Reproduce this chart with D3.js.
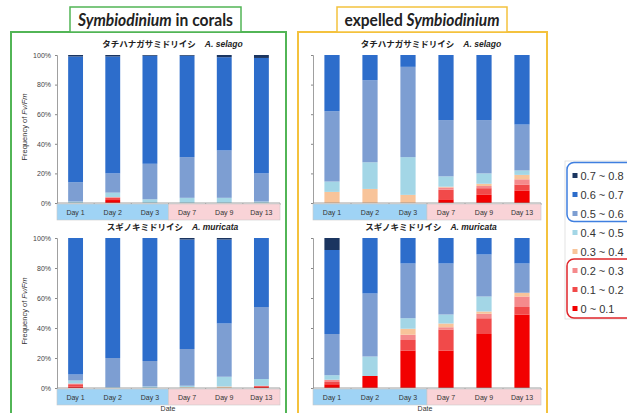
<!DOCTYPE html>
<html>
<head>
<meta charset="utf-8">
<script src="https://cdn.jsdelivr.net/npm/d3@7"></script>
<style>
  html, body { margin: 0; padding: 0; background: #fff; }
  svg { display: block; font-family: "Liberation Sans", Arial, sans-serif; }
</style>
</head>
<body>
<svg id="chart" width="627" height="413"></svg>
<script>
// categories
const days = ["Day 1", "Day 2", "Day 3", "Day 7", "Day 9", "Day 13"];
const dayPhase = ["before", "before", "before", "after", "after", "after"];
const bins = ["0 ~ 0.1", "0.1 ~ 0.2", "0.2 ~ 0.3", "0.3 ~ 0.4", "0.4 ~ 0.5", "0.5 ~ 0.6", "0.6 ~ 0.7", "0.7 ~ 0.8"];
const binColors = ["#f20000", "#f14a4a", "#f58a8c", "#f8c49a", "#a3d6e6", "#7d9ed2", "#2d6dcb", "#1b3560"];
const yTicks = [0, 20, 40, 60, 80, 100];

// frequency (%) per day, columns follow bins (0~0.1 ... 0.7~0.8)
const coralSelago = [
  [0, 0, 0, 0, 1, 13, 85, 1],
  [2, 1.5, 0.5, 0, 3, 13, 79, 1],
  [0, 0, 0, 0, 2.5, 24, 73, 0.5],
  [0, 0, 0, 0, 3.5, 27.5, 68.5, 0.5],
  [0, 0, 0, 0, 3.5, 32, 63, 1.5],
  [0, 0, 0, 0, 1, 19, 78, 2]
];
const coralMuricata = [
  [1, 1.5, 0.5, 0, 2, 4, 91, 0],
  [0, 0, 0, 0, 0.5, 19.5, 80, 0],
  [0, 0, 0, 0, 1, 17, 82, 0],
  [0, 0, 0, 0.5, 1, 24.5, 73, 1],
  [0, 0, 0, 1, 6.5, 35.5, 56, 1],
  [1, 0.5, 0, 0, 4.5, 48, 46, 0]
];
const expelledSelago = [
  [0, 0, 0, 7.5, 7, 47.5, 38, 0],
  [0, 0, 0, 9.5, 18, 55.5, 17, 0],
  [0, 0, 0, 5.5, 25.5, 61, 8, 0],
  [2.5, 6.5, 1.5, 0.5, 7, 38, 44, 0],
  [5.5, 4.5, 1.5, 1.5, 7, 36, 44, 0],
  [8.5, 4, 3.5, 3, 3, 31, 47, 0]
];
const expelledMuricata = [
  [2.5, 1.5, 1.5, 0, 3, 27.5, 56, 8],
  [8, 0, 0, 0, 13, 42, 37, 0],
  [25, 7, 3.5, 4, 7, 36.5, 17, 0],
  [25, 14, 1.5, 2.5, 6, 34, 17, 0],
  [36, 10.5, 3, 1.5, 10, 28, 11, 0],
  [49, 5, 7, 2.5, 0, 19.5, 17, 0]
];

const svg = d3.select("#chart");

// outer frames (drawn first so charts sit on top)
svg.append("rect").attr("x", 11).attr("y", 32).attr("width", 275).attr("height", 400)
  .attr("fill", "none").attr("stroke", "#52b556").attr("stroke-width", 2);
svg.append("rect").attr("x", 298).attr("y", 32).attr("width", 249).attr("height", 400)
  .attr("fill", "none").attr("stroke", "#f4c23e").attr("stroke-width", 2);

function titleBox(x, y, w, h, stroke, parts) {
  svg.append("rect").attr("x", x).attr("y", y).attr("width", w).attr("height", h)
    .attr("fill", "#fff").attr("stroke", stroke).attr("stroke-width", 1.5);
  const t = svg.append("text").attr("x", x + w / 2).attr("y", y + h / 2 + 6)
    .attr("text-anchor", "middle").attr("font-family", "Lato, 'Open Sans', sans-serif")
    .attr("font-weight", "bold").attr("font-size", 16.5).attr("fill", "#222")
    .attr("textLength", 155).attr("lengthAdjust", "spacingAndGlyphs");
  parts.forEach(p => t.append("tspan").attr("font-style", p.italic ? "italic" : "normal").text(p.text));
}
titleBox(70, 7, 171, 25, "#52b556", [{ text: "Symbiodinium", italic: true }, { text: " in corals" }]);
titleBox(337, 7, 170, 25, "#f4c23e", [{ text: "expelled " }, { text: "Symbiodinium", italic: true }]);

function drawPanel(rows, x0, x1, yBottom, yTop, jp, latin, showLabels) {
  const g = svg.append("g");
  const x = d3.scaleBand().domain(days).range([x0, x1]).paddingInner(0.6).paddingOuter(0.3);
  const y = d3.scaleLinear().domain([0, 100]).range([yBottom, yTop]);
  const step = x.step();

  // subtitle
  const st = g.append("text").attr("x", (x0 + x1) / 2 + 4).attr("y", yTop - 8)
    .attr("text-anchor", "middle").attr("font-size", 8.5).attr("font-weight", "bold").attr("fill", "#222");
  st.append("tspan").attr("font-family", "'Noto Sans CJK JP', sans-serif").text(jp);
  st.append("tspan").attr("dx", 9).attr("font-style", "italic").text(latin);

  // stacked bars
  const table = rows.map((r, i) => {
    const o = { day: days[i] };
    bins.forEach((b, j) => { o[b] = r[j]; });
    return o;
  });
  const series = d3.stack().keys(bins)(table);
  g.selectAll("g.layer").data(series).join("g")
    .attr("fill", (d, i) => binColors[i])
    .selectAll("rect").data(d => d).join("rect")
    .attr("x", d => x(d.data.day))
    .attr("width", x.bandwidth())
    .attr("y", d => y(d[1]))
    .attr("height", d => Math.max(0, y(d[0]) - y(d[1])));

  // y axis
  const ya = g.append("g").attr("transform", `translate(${x0},0)`)
    .call(d3.axisLeft(y).tickValues(yTicks).tickSize(2).tickPadding(4)
      .tickFormat(showLabels ? (d => d + "%") : ""));
  ya.select(".domain").attr("stroke", "#888").attr("stroke-width", 0.8);
  ya.selectAll(".tick line").attr("stroke", "#888");
  ya.selectAll(".tick text").attr("font-size", 7).attr("fill", "#444");

  // x axis line with ticks at band boundaries
  g.append("line").attr("x1", x0).attr("x2", x1).attr("y1", yBottom).attr("y2", yBottom)
    .attr("stroke", "#888").attr("stroke-width", 0.8);
  g.selectAll("line.xt").data(days).join("line")
    .attr("x1", d => x(d) + x.bandwidth() / 2 + step / 2)
    .attr("x2", d => x(d) + x.bandwidth() / 2 + step / 2)
    .attr("y1", yBottom).attr("y2", yBottom + 2).attr("stroke", "#888").attr("stroke-width", 0.8);

  // day label bands
  const bandTop = yBottom + 1, bandH = 16;
  ["before", "after"].forEach(ph => {
    const idx = days.filter((d, i) => dayPhase[i] === ph);
    const a = x(idx[0]) + x.bandwidth() / 2 - step / 2;
    const b = x(idx[idx.length - 1]) + x.bandwidth() / 2 + step / 2;
    g.append("rect").attr("x", a).attr("y", bandTop).attr("width", b - a).attr("height", bandH)
      .attr("fill", ph === "before" ? "#9fd3f5" : "#f9d3d7")
      .attr("stroke", "#c8c8c8").attr("stroke-width", 0.6);
  });
  g.selectAll("text.day").data(days).join("text")
    .attr("x", d => x(d) + x.bandwidth() / 2).attr("y", bandTop + bandH / 2 + 2.5)
    .attr("text-anchor", "middle").attr("font-size", 7).attr("fill", "#333").text(d => d);

  // y axis title
  if (showLabels) {
    const yt = g.append("text")
      .attr("transform", `translate(27,${(yBottom + yTop) / 2 - 2}) rotate(-90)`)
      .attr("text-anchor", "middle").attr("font-size", 7.5).attr("fill", "#333");
    yt.append("tspan").text("Frequency of ");
    yt.append("tspan").attr("font-style", "italic").text("Fv/Fm");
  }
}

drawPanel(coralSelago, 57, 280, 203, 55, "タチハナガサミドリイシ", "A. selago", true);
drawPanel(coralMuricata, 57, 280, 388, 238, "スギノキミドリイシ", "A. muricata", true);
drawPanel(expelledSelago, 313, 541, 203, 55, "タチハナガサミドリイシ", "A. selago", false);
drawPanel(expelledMuricata, 313, 541, 388, 238, "スギノキミドリイシ", "A. muricata", false);

// x titles
[168, 425].forEach(cx => {
  svg.append("text").attr("x", cx).attr("y", 411).attr("text-anchor", "middle")
    .attr("font-size", 7).attr("fill", "#333").text("Date");
});

// legend
const lg = svg.append("g");
const legY = d3.scalePoint().domain(bins.slice().reverse()).range([175.5, 308.5]);
lg.append("rect").attr("x", 565).attr("y", 161).attr("width", 70).attr("height", 158)
  .attr("fill", "#fff").attr("stroke", "#ddd").attr("stroke-width", 0.8);
lg.append("rect").attr("x", 567).attr("y", 162.5).attr("width", 66).attr("height", 59).attr("rx", 7)
  .attr("fill", "none").attr("stroke", "#3f7fe0").attr("stroke-width", 1.5);
lg.append("rect").attr("x", 567).attr("y", 259).attr("width", 66).attr("height", 59).attr("rx", 7)
  .attr("fill", "none").attr("stroke", "#e0262b").attr("stroke-width", 1.5);
lg.selectAll("rect.sw").data(bins).join("rect")
  .attr("x", 572.5).attr("y", d => legY(d) - 2.5).attr("width", 5).attr("height", 5)
  .attr("fill", (d, i) => binColors[i]);
lg.selectAll("text.lt").data(bins).join("text")
  .attr("x", 580.5).attr("y", d => legY(d) + 4)
  .attr("font-size", 11).attr("fill", "#333").text(d => d);
</script>
</body>
</html>
